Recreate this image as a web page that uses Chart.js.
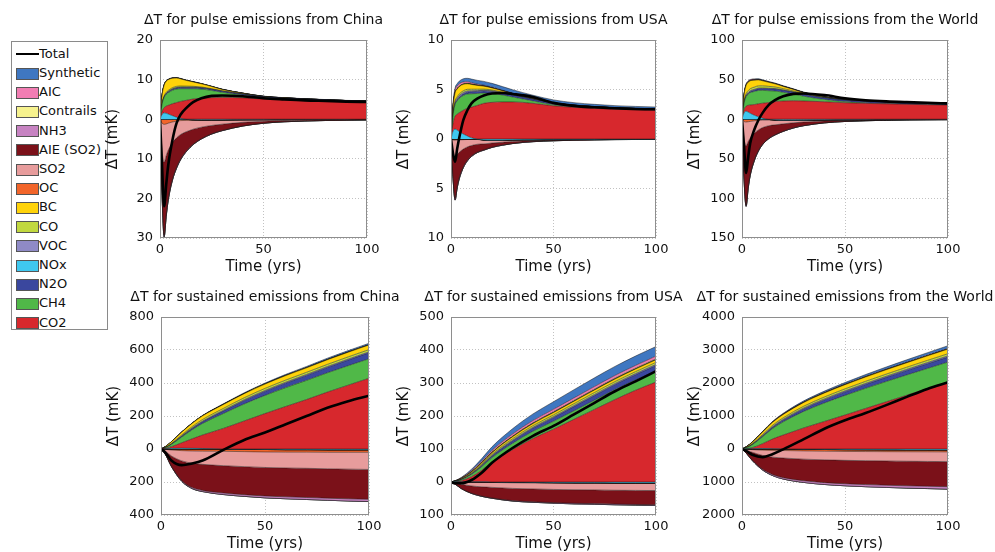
<!DOCTYPE html>
<html>
<head>
<meta charset="utf-8">
<script src="https://cdn.jsdelivr.net/npm/chart.js@4.4.1/dist/chart.umd.min.js"></script>
<style>
  body { margin: 0; background: #fff; width: 995px; height: 552px; position: relative; overflow: hidden; font-family: "DejaVu Sans", sans-serif; }
  canvas { position: absolute; }
  #legend { position: absolute; left: 11px; top: 41px; width: 97px; height: 289px; border: 1px solid #8a8a8a; box-sizing: border-box; background: #fff; }
  .row { position: absolute; left: 0; height: 19px; font-size: 13px; color: #111; white-space: nowrap; }
  .sw { position: absolute; left: 4px; width: 21px; height: 10px; border: 1px solid #555; }
  .ln { position: absolute; left: 4px; width: 23px; height: 0; border-top: 2px solid #000; }
  .tx { position: absolute; left: 27px; }
</style>
</head>
<body>
<div id="legend"></div>
<script>
// time axes (years after emission)
const pulseYears = [0, 1, 2, 3, 4, 6, 8, 10, 13, 16, 20, 25, 30, 40, 50, 60, 70, 80, 90, 100];
const sustainedYears = [0, 2, 5, 10, 15, 20, 30, 40, 50, 60, 70, 80, 90, 100];

// stacking order from the zero line outwards
const stackOrder = ['NOx', 'CO2', 'CH4', 'N2O', 'VOC', 'CO', 'BC', 'OC', 'SO2', 'AIE', 'NH3', 'Contrails', 'AIC', 'Synthetic'];
const legendKeys = ['Synthetic', 'AIC', 'Contrails', 'NH3', 'AIE', 'SO2', 'OC', 'BC', 'CO', 'VOC', 'NOx', 'N2O', 'CH4', 'CO2'];
const legendLabels = ['Synthetic', 'AIC', 'Contrails', 'NH3', 'AIE (SO2)', 'SO2', 'OC', 'BC', 'CO', 'VOC', 'NOx', 'N2O', 'CH4', 'CO2'];
const colours = {
  Synthetic: '#3f77c1', AIC: '#f27db3', Contrails: '#f6f28e', NH3: '#c783c2',
  AIE: '#7b1119', SO2: '#e79c9c', OC: '#f2652a', BC: '#ffd30a', CO: '#c1d83f',
  VOC: '#8f8ac6', NOx: '#3fc8ef', N2O: '#3a479e', CH4: '#50b848', CO2: '#d7282d'
};

// pulse emissions, mK
const chinaPulse = {
  NOx: [0, 1.2, 1.6, 1.5, 1.3, 0.9, 0.5, 0.2, -0.05, -0.15, -0.2, -0.2, -0.2, -0.15, -0.12, -0.1, -0.08, -0.06, -0.05, -0.04],
  CO2: [0, 0.8, 1.3, 1.8, 2.2, 3.0, 3.7, 4.3, 4.8, 5.1, 5.3, 5.45, 5.5, 5.4, 5.1, 4.95, 4.8, 4.65, 4.5, 4.4],
  CH4: [0, 1.8, 2.6, 3.0, 3.2, 3.4, 3.4, 3.2, 2.9, 2.6, 2.3, 1.8, 1.3, 0.7, 0.35, 0.2, 0.12, 0.08, 0.05, 0.04],
  N2O: [0, 0.05, 0.1, 0.15, 0.2, 0.25, 0.3, 0.32, 0.33, 0.33, 0.32, 0.3, 0.28, 0.25, 0.22, 0.2, 0.18, 0.17, 0.16, 0.15],
  VOC: [0, 0.05, 0.1, 0.1, 0.1, 0.1, 0.09, 0.08, 0.07, 0.06, 0.05, 0.03, 0.02, 0.01, 0, 0, 0, 0, 0, 0],
  CO: [0, 0.1, 0.2, 0.25, 0.28, 0.3, 0.3, 0.28, 0.25, 0.22, 0.17, 0.12, 0.08, 0.04, 0.02, 0.01, 0, 0, 0, 0],
  BC: [0, 2.0, 2.7, 2.8, 2.7, 2.4, 2.1, 1.8, 1.4, 1.1, 0.8, 0.55, 0.35, 0.15, 0.07, 0.03, 0.02, 0.01, 0, 0],
  OC: [0, -1.0, -1.3, -1.2, -1.0, -0.7, -0.5, -0.35, -0.25, -0.18, -0.12, -0.08, -0.06, -0.04, -0.03, -0.02, -0.02, -0.01, -0.01, -0.01],
  SO2: [0, -7, -9.5, -8, -6.8, -5.2, -4.2, -3.5, -2.8, -2.2, -1.7, -1.3, -1.0, -0.6, -0.35, -0.22, -0.15, -0.1, -0.08, -0.06],
  AIE: [0, -11, -18.5, -15, -12.3, -9.3, -7.5, -6.2, -4.8, -3.8, -2.9, -2.1, -1.6, -0.9, -0.5, -0.3, -0.2, -0.15, -0.1, -0.08],
  NH3: [0, -0.3, -0.4, -0.35, -0.3, -0.22, -0.17, -0.13, -0.1, -0.08, -0.06, -0.05, -0.04, -0.03, -0.02, -0.01, -0.01, -0.01, -0.01, -0.01],
  Contrails: [0, 0.02, 0.03, 0.03, 0.03, 0.02, 0.02, 0.02, 0.01, 0.01, 0.01, 0, 0, 0, 0, 0, 0, 0, 0, 0],
  AIC: [0, 0.04, 0.05, 0.05, 0.04, 0.04, 0.03, 0.03, 0.02, 0.02, 0.01, 0.01, 0, 0, 0, 0, 0, 0, 0, 0],
  Synthetic: [0, 0.01, 0.02, 0.03, 0.04, 0.05, 0.06, 0.06, 0.07, 0.07, 0.07, 0.07, 0.07, 0.06, 0.06, 0.05, 0.05, 0.05, 0.04, 0.04]
};
const chinaPulseTotal = [0, -12, -22, -16.5, -11.5, -5.3, -1.0, 1.2, 3.0, 4.3, 5.3, 5.9, 6.0, 5.8, 5.3, 5.0, 4.75, 4.6, 4.45, 4.35];

const usaPulse = {
  NOx: [0, 0.8, 1.0, 0.9, 0.75, 0.5, 0.3, 0.12, -0.02, -0.1, -0.12, -0.12, -0.1, -0.08, -0.06, -0.05, -0.04, -0.03, -0.03, -0.02],
  CO2: [0, 0.8, 1.3, 1.6, 1.9, 2.4, 2.8, 3.1, 3.4, 3.6, 3.7, 3.75, 3.75, 3.6, 3.35, 3.2, 3.1, 3.0, 2.95, 2.9],
  CH4: [0, 0.8, 1.2, 1.35, 1.45, 1.5, 1.45, 1.35, 1.2, 1.05, 0.9, 0.7, 0.5, 0.25, 0.12, 0.06, 0.03, 0.02, 0.01, 0.01],
  N2O: [0, 0.03, 0.06, 0.09, 0.12, 0.15, 0.18, 0.2, 0.21, 0.21, 0.21, 0.2, 0.19, 0.17, 0.15, 0.14, 0.13, 0.13, 0.12, 0.12],
  VOC: [0, 0.1, 0.15, 0.15, 0.15, 0.14, 0.12, 0.1, 0.08, 0.06, 0.05, 0.03, 0.02, 0.01, 0, 0, 0, 0, 0, 0],
  CO: [0, 0.1, 0.15, 0.17, 0.18, 0.18, 0.17, 0.16, 0.14, 0.12, 0.09, 0.06, 0.04, 0.02, 0.01, 0, 0, 0, 0, 0],
  BC: [0, 0.6, 0.8, 0.78, 0.74, 0.65, 0.56, 0.48, 0.38, 0.3, 0.21, 0.14, 0.09, 0.04, 0.02, 0.01, 0, 0, 0, 0],
  OC: [0, -0.1, -0.12, -0.1, -0.09, -0.07, -0.05, -0.04, -0.03, -0.02, -0.01, -0.01, 0, 0, 0, 0, 0, 0, 0, 0],
  SO2: [0, -1.2, -1.7, -1.45, -1.25, -0.95, -0.75, -0.62, -0.48, -0.38, -0.28, -0.2, -0.15, -0.08, -0.05, -0.03, -0.02, -0.01, -0.01, -0.01],
  AIE: [0, -2.6, -4.2, -3.3, -2.6, -1.8, -1.35, -1.05, -0.78, -0.6, -0.42, -0.28, -0.2, -0.1, -0.06, -0.04, -0.03, -0.02, -0.01, -0.01],
  NH3: [0, -0.1, -0.15, -0.12, -0.1, -0.08, -0.06, -0.05, -0.04, -0.03, -0.02, -0.02, -0.01, -0.01, -0.01, 0, 0, 0, 0, 0],
  Contrails: [0, 0.05, 0.07, 0.07, 0.06, 0.05, 0.04, 0.04, 0.03, 0.02, 0.02, 0.01, 0.01, 0, 0, 0, 0, 0, 0, 0],
  AIC: [0, 0.2, 0.25, 0.24, 0.22, 0.19, 0.16, 0.13, 0.1, 0.08, 0.06, 0.04, 0.03, 0.01, 0.01, 0, 0, 0, 0, 0],
  Synthetic: [0, 0.1, 0.18, 0.23, 0.27, 0.32, 0.35, 0.37, 0.38, 0.38, 0.38, 0.37, 0.35, 0.32, 0.29, 0.26, 0.24, 0.22, 0.21, 0.2]
};
const usaPulseTotal = [0, -1.5, -2.3, -1.0, 0.1, 1.9, 2.9, 3.6, 4.1, 4.4, 4.6, 4.65, 4.55, 4.25, 3.65, 3.35, 3.2, 3.1, 3.03, 3.0];

const worldPulse = {
  NOx: [0, 8, 10, 9, 7.5, 5, 3, 1.2, -0.3, -1, -1.3, -1.3, -1.2, -1, -0.8, -0.65, -0.5, -0.4, -0.35, -0.3],
  CO2: [0, 4, 6.5, 8.5, 10.5, 13.5, 16.5, 19, 21, 22.3, 23, 23.3, 23, 22, 20.8, 20, 19.4, 18.8, 18.3, 17.9],
  CH4: [0, 8, 12, 14, 15.5, 16.5, 16.8, 16.2, 15, 13.3, 11, 8.5, 6, 3, 1.4, 0.7, 0.35, 0.2, 0.12, 0.08],
  N2O: [0, 0.3, 0.6, 0.9, 1.2, 1.6, 2, 2.2, 2.4, 2.5, 2.5, 2.4, 2.3, 2.1, 1.9, 1.75, 1.6, 1.5, 1.4, 1.3],
  VOC: [0, 0.8, 1.2, 1.2, 1.2, 1.1, 1, 0.85, 0.7, 0.55, 0.4, 0.28, 0.18, 0.08, 0.04, 0.02, 0.01, 0, 0, 0],
  CO: [0, 1.2, 2, 2.4, 2.6, 2.8, 2.8, 2.7, 2.4, 2.1, 1.7, 1.2, 0.85, 0.4, 0.2, 0.1, 0.05, 0.02, 0.01, 0],
  BC: [0, 8, 10.5, 10.5, 10, 8.8, 7.5, 6.3, 5, 3.9, 2.8, 1.9, 1.25, 0.55, 0.25, 0.12, 0.06, 0.03, 0.01, 0],
  OC: [0, -3, -3.5, -3.2, -2.8, -2, -1.5, -1.1, -0.75, -0.55, -0.38, -0.25, -0.17, -0.08, -0.05, -0.03, -0.02, -0.01, -0.01, -0.01],
  SO2: [0, -22, -30, -25, -21, -15.5, -12, -9.5, -7.2, -5.6, -4.2, -3, -2.2, -1.2, -0.7, -0.45, -0.3, -0.2, -0.15, -0.1],
  AIE: [0, -50, -75, -58, -46, -34, -26, -21, -16, -12.5, -9.3, -6.4, -4.5, -2.3, -1.3, -0.8, -0.5, -0.35, -0.25, -0.2],
  NH3: [0, -1, -1.5, -1.3, -1.1, -0.8, -0.6, -0.45, -0.35, -0.27, -0.2, -0.14, -0.1, -0.05, -0.03, -0.02, -0.01, -0.01, -0.01, -0.01],
  Contrails: [0, 0.3, 0.4, 0.4, 0.35, 0.3, 0.25, 0.2, 0.15, 0.12, 0.09, 0.06, 0.04, 0.02, 0.01, 0, 0, 0, 0, 0],
  AIC: [0, 0.8, 1.0, 1.0, 0.9, 0.8, 0.65, 0.55, 0.42, 0.33, 0.24, 0.16, 0.1, 0.05, 0.02, 0.01, 0, 0, 0, 0],
  Synthetic: [0, 0.1, 0.2, 0.3, 0.35, 0.45, 0.5, 0.55, 0.58, 0.6, 0.6, 0.58, 0.56, 0.5, 0.45, 0.42, 0.39, 0.36, 0.34, 0.32]
};
const worldPulseTotal = [0, -35, -68, -48, -30, -13, -1, 8, 18, 24, 29, 32, 32.5, 30.5, 26.5, 24, 22.5, 21.5, 20.7, 20];

// sustained emissions, mK
const chinaSustained = {
  NOx: [0, 2, 4, 5, 4, 3, 0, -2, -3, -4, -4, -5, -5, -5],
  CO2: [0, 2, 10, 33, 58, 82, 125, 170, 215, 258, 300, 345, 387, 429],
  CH4: [0, 4, 14, 35, 55, 70, 90, 103, 110, 114, 116, 117, 118, 118],
  N2O: [0, 0.2, 1, 4, 7, 10, 15, 20, 24, 27, 30, 32, 34, 36],
  VOC: [0, 0.5, 1.5, 3, 4, 4.5, 5, 5.5, 5.8, 6, 6, 6, 6, 6],
  CO: [0, 1, 3, 6, 8, 9.5, 11, 12, 12.5, 13, 13, 13, 13.5, 13.5],
  BC: [0, 4, 10, 17, 20, 22, 24, 25, 26, 27, 27, 28, 28, 28],
  OC: [0, -2, -6, -10, -12, -13, -14, -14, -15, -15, -15, -15, -15, -15],
  SO2: [0, -10, -36, -62, -74, -80, -87, -91, -94, -96, -98, -100, -102, -104],
  AIE: [0, -18, -62, -120, -148, -158, -166, -170, -173, -175, -177, -178, -180, -181],
  NH3: [0, -0.5, -2, -4, -6, -7, -9, -10, -11, -11.5, -12, -12.5, -13, -13.5],
  Contrails: [0, 0, 0.1, 0.2, 0.3, 0.3, 0.4, 0.4, 0.5, 0.5, 0.5, 0.5, 0.5, 0.5],
  AIC: [0, 0.1, 0.2, 0.4, 0.5, 0.6, 0.7, 0.8, 0.8, 0.9, 0.9, 0.9, 0.9, 0.9],
  Synthetic: [0, 0.2, 0.5, 1, 1.5, 2, 3, 4, 5, 6, 7, 8, 8.5, 9]
};
const chinaSustainedTotal = [0, -20, -70, -98, -88, -70, -5, 55, 100, 150, 200, 250, 290, 323];

const usaSustained = {
  NOx: [0, 0.5, 1, 1, 0.5, 0, -1, -1.5, -2, -2.5, -2.5, -3, -3, -3],
  CO2: [0, 0.5, 3, 15, 35, 60, 98, 132, 160, 190, 220, 250, 278, 303],
  CH4: [0, 1, 3, 7, 11, 14, 19, 22, 24, 26, 28, 30, 31, 33],
  N2O: [0, 0.1, 0.5, 1.5, 3, 4.5, 7, 9, 11, 12.5, 14, 15, 16, 17],
  VOC: [0, 0.2, 0.5, 1, 1.5, 2, 2.5, 2.8, 3, 3.2, 3.3, 3.4, 3.5, 3.5],
  CO: [0, 0.3, 1, 2, 3, 3.5, 4.5, 5, 5.5, 5.7, 6, 6, 6, 6],
  BC: [0, 0.5, 1.5, 3, 4, 5, 6, 6.5, 7, 7.3, 7.5, 7.7, 7.8, 8],
  OC: [0, -0.3, -0.6, -1, -1.2, -1.3, -1.4, -1.5, -1.5, -1.5, -1.5, -1.5, -1.5, -1.5],
  SO2: [0, -2, -6, -11, -13.5, -15, -17, -18, -19, -19.5, -20, -20.5, -21, -21.5],
  AIE: [0, -4, -13, -22, -28, -32, -37, -39, -40, -41, -41.5, -42, -42.5, -43],
  NH3: [0, -0.1, -0.3, -0.6, -0.8, -1, -1.3, -1.5, -1.7, -1.8, -1.9, -2, -2, -2],
  Contrails: [0, 0.2, 0.6, 1, 1.5, 1.8, 2.2, 2.5, 2.7, 2.8, 2.9, 3, 3, 3],
  AIC: [0, 0.5, 1.5, 3, 4, 5, 6, 6.5, 7, 7.3, 7.5, 7.7, 7.8, 8],
  Synthetic: [0, 0.3, 1.2, 4, 7.5, 11, 16, 20, 23, 25, 26.5, 27.5, 28.5, 29]
};
const usaSustainedTotal = [0, -4, -4, 6, 28, 58, 103, 140, 170, 205, 240, 275, 305, 336];

const worldSustained = {
  NOx: [0, 5, 10, 12, 8, 3, -8, -15, -20, -23, -25, -27, -28, -30],
  CO2: [0, 5, 30, 150, 300, 420, 640, 835, 1030, 1230, 1430, 1630, 1830, 2030],
  CH4: [0, 25, 90, 210, 320, 400, 500, 560, 595, 610, 615, 615, 610, 605],
  N2O: [0, 2, 6, 20, 35, 50, 75, 92, 105, 116, 126, 135, 144, 152],
  VOC: [0, 4, 10, 18, 23, 26, 29, 31, 32, 33, 34, 34, 35, 35],
  CO: [0, 5, 15, 30, 40, 46, 54, 58, 61, 63, 64, 65, 66, 66],
  BC: [0, 18, 45, 75, 92, 102, 114, 121, 126, 130, 133, 135, 137, 139],
  OC: [0, -8, -20, -35, -42, -46, -50, -52, -54, -55, -56, -57, -58, -58],
  SO2: [0, -30, -80, -160, -205, -228, -250, -262, -270, -276, -282, -287, -291, -295],
  AIE: [0, -80, -240, -420, -530, -595, -655, -690, -710, -725, -735, -745, -752, -760],
  NH3: [0, -3, -10, -22, -32, -40, -50, -56, -60, -63, -66, -68, -70, -72],
  Contrails: [0, 0.5, 1.5, 3, 4, 5, 5.5, 6, 6, 6, 6, 6, 6, 6],
  AIC: [0, 2, 5, 9, 12, 13, 15, 16, 16, 17, 17, 17, 17, 17],
  Synthetic: [0, 0.5, 2, 6, 11, 16, 26, 35, 43, 51, 59, 66, 73, 80]
};
const worldSustainedTotal = [0, -60, -175, -245, -150, -10, 300, 615, 870, 1090, 1330, 1580, 1820, 2020];

// axis ranges: [min, max, step]
const chinaPulseRange = [-30, 20, 10];
const usaPulseRange = [-10, 10, 5];
const worldPulseRange = [-150, 100, 50];
const chinaSustainedRange = [-400, 800, 200];
const usaSustainedRange = [-100, 500, 100];
const worldSustainedRange = [-2000, 4000, 1000];

// ---- layout ----
const Y_W = 56, X_H = 38, TITLE_H = 28, PAD_R = 56;
const FONT = '"DejaVu Sans", sans-serif';

const panels = [
  { title: 'ΔT for pulse emissions from China', years: pulseYears, table: chinaPulse, total: chinaPulseTotal, range: chinaPulseRange, box: [160, 40, 207, 198] },
  { title: 'ΔT for pulse emissions from USA', years: pulseYears, table: usaPulse, total: usaPulseTotal, range: usaPulseRange, box: [451, 40, 205, 198] },
  { title: 'ΔT for pulse emissions from the World', years: pulseYears, table: worldPulse, total: worldPulseTotal, range: worldPulseRange, box: [742, 40, 206, 198] },
  { title: 'ΔT for sustained emissions from China', years: sustainedYears, table: chinaSustained, total: chinaSustainedTotal, range: chinaSustainedRange, box: [161, 317, 208, 198] },
  { title: 'ΔT for sustained emissions from USA', years: sustainedYears, table: usaSustained, total: usaSustainedTotal, range: usaSustainedRange, box: [451, 317, 205, 198] },
  { title: 'ΔT for sustained emissions from the World', years: sustainedYears, table: worldSustained, total: worldSustainedTotal, range: worldSustainedRange, box: [742, 317, 206, 198] }
];

// grey box around each axes, drawn over the areas
const frame = {
  id: 'frame',
  afterDatasetsDraw(chart) {
    const a = chart.chartArea, ctx = chart.ctx;
    ctx.save();
    ctx.strokeStyle = '#8e8e8e';
    ctx.lineWidth = 1;
    ctx.strokeRect(Math.round(a.left) + 0.5, Math.round(a.top) + 0.5, Math.round(a.right - a.left) - 1, Math.round(a.bottom - a.top) - 1);
    ctx.restore();
  }
};

function buildDatasets(years, table, total) {
  const sets = [{
    label: 'Total', stack: 'total',
    data: years.map((x, i) => ({ x, y: total[i] })),
    borderColor: '#000', borderWidth: 2.6, fill: false, pointRadius: 0,
    cubicInterpolationMode: 'monotone'
  }];
  // positive parts stack upwards, negative parts downwards
  ['pos', 'neg'].forEach(side => {
    stackOrder.forEach((key, k) => {
      const vals = table[key];
      sets.push({
        label: key, stack: side,
        data: years.map((x, i) => ({ x, y: side === 'pos' ? Math.max(vals[i], 0) : Math.min(vals[i], 0) })),
        backgroundColor: colours[key],
        borderColor: 'rgba(20,20,20,0.8)', borderWidth: 0.6,
        fill: k === 0 ? 'origin' : '-1',
        pointRadius: 0, cubicInterpolationMode: 'monotone'
      });
    });
  });
  return sets;
}

panels.forEach(p => {
  const [px, py, pw, ph] = p.box;
  const canvas = document.createElement('canvas');
  canvas.width = Y_W + pw + PAD_R;
  canvas.height = TITLE_H + ph + X_H;
  canvas.style.left = (px - Y_W) + 'px';
  canvas.style.top = (py - TITLE_H) + 'px';
  document.body.appendChild(canvas);

  const [yMin, yMax, yStep] = p.range;
  new Chart(canvas, {
    type: 'line',
    data: { datasets: buildDatasets(p.years, p.table, p.total) },
    options: {
      responsive: false,
      animation: false,
      devicePixelRatio: 1,
      layout: { padding: 0 },
      plugins: {
        legend: { display: false },
        tooltip: { enabled: false },
        title: {
          display: true, text: p.title, color: '#111',
          font: { family: FONT, size: 14, weight: 'normal' },
          padding: { top: 0, bottom: TITLE_H - 16.8 }
        }
      },
      scales: {
        x: {
          type: 'linear', min: 0, max: 100,
          ticks: { stepSize: 50, color: '#111', padding: 4, maxRotation: 0, font: { family: FONT, size: 13 } },
          grid: { color: '#c2c2c2', drawTicks: false },
          border: { display: false, dash: [1, 2] },
          title: { display: true, text: 'Time (yrs)', color: '#111', font: { family: FONT, size: 15 }, padding: { top: 0, bottom: 0 } },
          afterFit: s => { s.height = X_H; }
        },
        y: {
          type: 'linear', stacked: true, min: yMin, max: yMax,
          ticks: { stepSize: yStep, color: '#111', padding: 7, font: { family: FONT, size: 13 }, callback: v => String(Math.abs(v)) },
          grid: { color: '#c2c2c2', drawTicks: false },
          border: { display: false, dash: [1, 2] },
          title: { display: true, text: 'ΔT (mK)', color: '#111', font: { family: FONT, size: 15 }, padding: { top: 0, bottom: 0 } },
          afterFit: s => { s.width = Y_W; }
        },
        // empty right-hand margin so the title centres over the axes
        margin: {
          type: 'linear', position: 'right', min: 0, max: 1,
          ticks: { display: false }, grid: { display: false }, border: { display: false },
          afterFit: s => { s.width = PAD_R; }
        }
      }
    },
    plugins: [frame]
  });
});

// legend box
const legend = document.getElementById('legend');
const rowTop = i => 12.3 + 19.2 * i - 9.5;
const totalRow = document.createElement('div');
totalRow.className = 'row';
totalRow.style.top = rowTop(0) + 'px';
totalRow.innerHTML = '<span class="ln" style="top:8.5px"></span><span class="tx" style="top:1px">Total</span>';
legend.appendChild(totalRow);
legendKeys.forEach((key, i) => {
  const row = document.createElement('div');
  row.className = 'row';
  row.style.top = rowTop(i + 1) + 'px';
  row.innerHTML = '<span class="sw" style="top:3.5px;background:' + colours[key] + '"></span>' +
    '<span class="tx" style="top:1px">' + legendLabels[i] + '</span>';
  legend.appendChild(row);
});
</script>
</body>
</html>
